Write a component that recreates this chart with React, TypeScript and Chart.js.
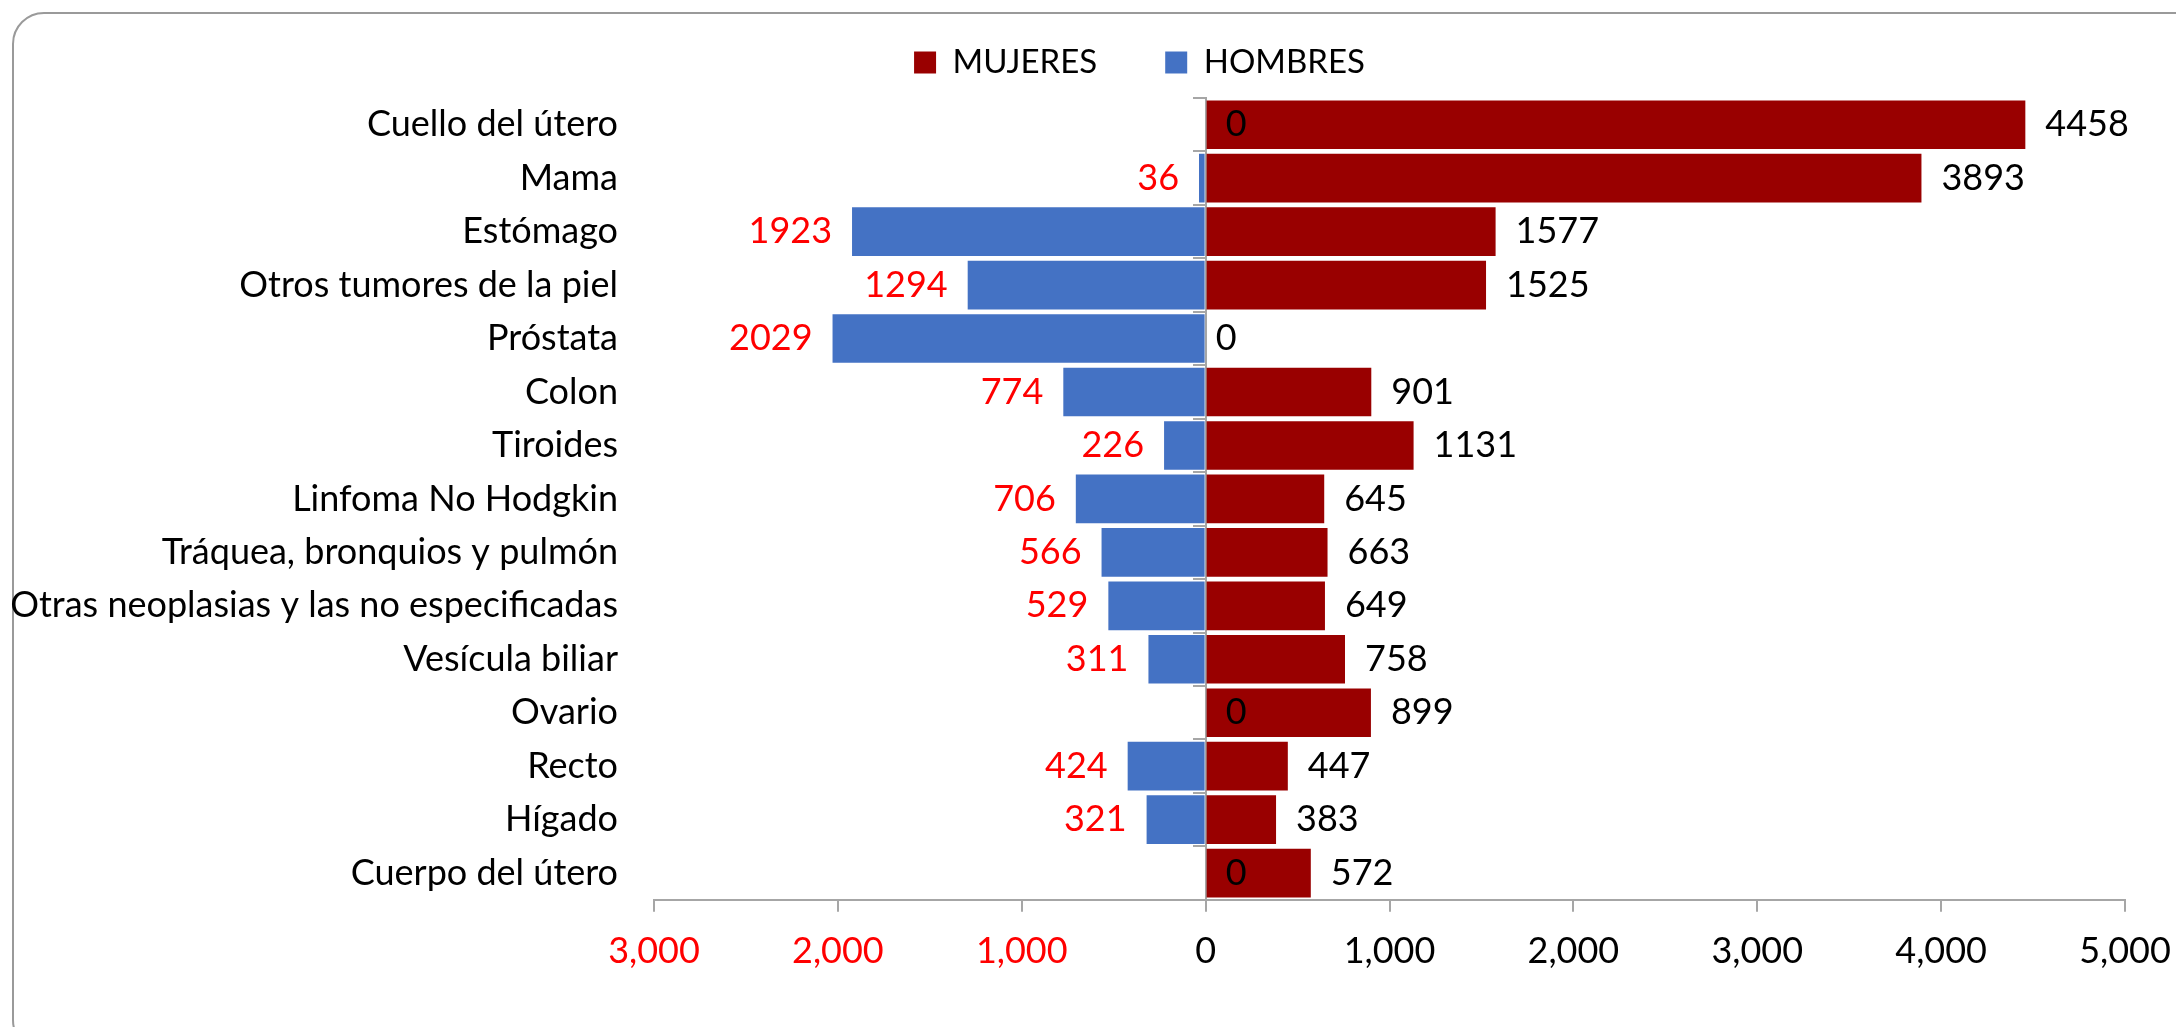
import React, { useEffect, useRef } from "react";
import { Chart, registerables } from "chart.js";

Chart.register(...registerables);

// ---- data ----
const categories = [
  "Cuello del útero",
  "Mama",
  "Estómago",
  "Otros tumores de la piel",
  "Próstata",
  "Colon",
  "Tiroides",
  "Linfoma No Hodgkin",
  "Tráquea, bronquios y pulmón",
  "Otras neoplasias y las no especificadas",
  "Vesícula biliar",
  "Ovario",
  "Recto",
  "Hígado",
  "Cuerpo del útero",
];
const mujeres = [4458, 3893, 1577, 1525, 0, 901, 1131, 645, 663, 649, 758, 899, 447, 383, 572];
const hombres = [0, 36, 1923, 1294, 2029, 774, 226, 706, 566, 529, 311, 0, 424, 321, 0];
const seriesNames = ["MUJERES", "HOMBRES"];
const xMin = -3000;
const xMax = 5000;
const xStep = 1000;

// ---- styles ----
const FONT = "Lato, 'Open Sans', sans-serif";
const FS = 36;
const LEGEND_FS = 33;
const RED_BAR = "#990000";
const BLUE_BAR = "#4472C4";
const RED_TEXT = "#ff0000";
const AXIS_GRAY = "#a6a6a6";

const fmt = (v: number) => Math.abs(v).toLocaleString("en-US");

const dataLabels = {
  id: "dataLabels",
  afterDatasetsDraw(chart: any) {
    const ctx = chart.ctx;
    const zero = chart.scales.x.getPixelForValue(0);
    ctx.save();
    ctx.font = `${FS}px ${FONT}`;
    ctx.textBaseline = "middle";
    chart.data.datasets.forEach((_ds: any, di: number) => {
      const meta = chart.getDatasetMeta(di);
      meta.data.forEach((el: any, i: number) => {
        const raw = di === 0 ? mujeres[i] : hombres[i];
        const { x, y } = el.getProps(["x", "y"], true);
        let tx: number;
        let align: CanvasTextAlign;
        let color: string;
        if (di === 0) {
          color = "#000";
          align = "left";
          tx = raw === 0 ? zero + 10 : x + 20;
        } else if (raw === 0) {
          color = "#000";
          align = "left";
          tx = zero + 20;
        } else {
          color = RED_TEXT;
          align = "right";
          tx = x - 20;
        }
        ctx.fillStyle = color;
        ctx.textAlign = align;
        ctx.fillText(String(raw), tx, y);
      });
    });
    ctx.restore();
  },
};

const legendShift = {
  id: "legendShift",
  afterLayout(chart: any) {
    const lg = chart.legend;
    if (lg) {
      lg.left += 72;
      lg.right += 72;
      lg.top -= 9;
      lg.bottom -= 9;
    }
  },
};

export default function App() {
  const ref = useRef<HTMLCanvasElement>(null);

  useEffect(() => {
    if (!ref.current) return;
    const chart = new Chart(ref.current, {
      type: "bar",
      data: {
        labels: categories,
        datasets: [
          {
            label: seriesNames[0],
            data: mujeres,
            backgroundColor: RED_BAR,
            borderWidth: 0,
            categoryPercentage: 1,
            barPercentage: 0.91,
          },
          {
            label: seriesNames[1],
            data: hombres.map((v) => -v),
            backgroundColor: BLUE_BAR,
            borderWidth: 0,
            categoryPercentage: 1,
            barPercentage: 0.91,
          },
        ],
      },
      options: {
        indexAxis: "y",
        responsive: false,
        maintainAspectRatio: false,
        devicePixelRatio: 1,
        animation: false,
        layout: { padding: { top: -13, left: 10, right: 51, bottom: 36 } },
        plugins: {
          tooltip: { enabled: false },
          legend: {
            position: "top",
            labels: {
              boxWidth: 22,
              boxHeight: 22,
              padding: 68,
              color: "#000",
              font: { family: FONT, size: LEGEND_FS },
            },
          },
        },
        scales: {
          x: {
            type: "linear",
            stacked: true,
            min: xMin,
            max: xMax,
            ticks: {
              stepSize: xStep,
              padding: 18,
              font: { family: FONT, size: FS },
              color: (c: any) => (c.tick && c.tick.value < 0 ? RED_TEXT : "#000"),
              callback: (v: any) => fmt(Number(v)),
            },
            grid: {
              drawOnChartArea: false,
              drawTicks: true,
              tickLength: 12,
              color: AXIS_GRAY,
              lineWidth: 2,
            },
            border: { display: true, color: AXIS_GRAY, width: 2 },
            afterFit: (s: any) => {
              s.paddingLeft = 0;
              s.paddingRight = 0;
            },
          },
          y: {
            type: "category",
            stacked: true,
            offset: true,
            grid: { display: false },
            border: { display: false },
            ticks: {
              autoSkip: false,
              padding: 28,
              color: "#000",
              font: { family: FONT, size: FS },
            },
            afterFit: (s: any) => {
              s.width = 644;
              s.paddingTop = 0;
              s.paddingBottom = 0;
            },
          },
          y2: {
            type: "category",
            labels: categories,
            position: { x: 0 } as any,
            offset: true,
            ticks: { display: false, autoSkip: false },
            grid: {
              offset: true,
              drawOnChartArea: false,
              drawTicks: true,
              tickLength: 12,
              color: AXIS_GRAY,
              lineWidth: 2,
            },
            border: { display: true, color: AXIS_GRAY, width: 2 },
          },
        },
      },
      plugins: [dataLabels, legendShift],
    } as any);
    return () => chart.destroy();
  }, []);

  return (
    <div
      style={{
        position: "fixed",
        left: 0,
        top: 0,
        width: 2176,
        height: 1027,
        overflow: "hidden",
        background: "#fff",
      }}
    >
      <div
        style={{
          position: "absolute",
          left: 12,
          top: 12,
          width: 2200,
          height: 1040,
          border: "2px solid #9a9a9a",
          borderRadius: 32,
          boxSizing: "border-box",
        }}
      />
      <canvas
        ref={ref}
        width={2176}
        height={1027}
        style={{ position: "absolute", left: 0, top: 0, width: 2176, height: 1027 }}
      />
    </div>
  );
}
